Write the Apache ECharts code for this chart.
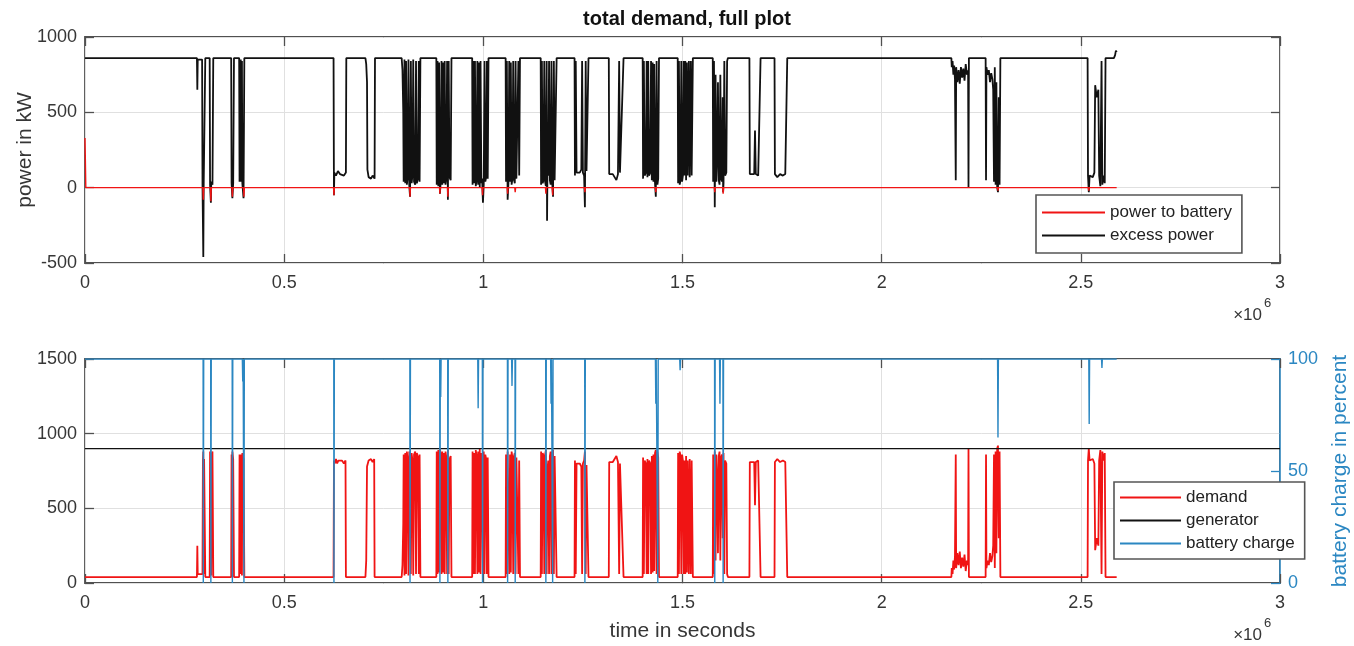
<!DOCTYPE html>
<html><head><meta charset="utf-8">
<script src="https://cdn.jsdelivr.net/npm/echarts@6/dist/echarts.min.js"></script>
<style>html,body{margin:0;padding:0;background:#fff}#c{width:1354px;height:646px}</style>
</head><body><div id="c"></div>
<script>
// All times are in units of 10^6 seconds (axis shows "x10^6")
const excessPower = [
[0,860],[0.281,860],[0.282,650],[0.283,850],[0.294,850],
[0.295,20],[0.297,-460],[0.298,30],[0.299,20],[0.301,40],[0.302,860],
[0.313,860],[0.314,20],[0.316,-100],[0.317,40],[0.318,30],[0.320,20],[0.322,860],
[0.367,860],[0.368,30],[0.370,-70],[0.372,30],[0.374,860],
[0.387,860],[0.388,40],[0.390,30],[0.391,850],[0.392,40],[0.394,840],[0.395,30],[0.398,-70],[0.400,860],
[0.624,860],[0.625,-50],[0.626,100],[0.630,80],[0.635,110],[0.640,90],[0.645,100],[0.650,80],[0.655,100],[0.656,860],
[0.704,860],[0.706,820],[0.708,700],[0.709,120],[0.712,70],[0.718,60],[0.722,80],[0.727,60],[0.728,860],
[0.795,860],[0.797,780],[0.799,500],[0.800,40],[0.802,850],[0.804,30],[0.806,840],[0.808,20],[0.810,70],[0.812,850],[0.814,20],[0.816,-60],[0.818,840],[0.820,30],[0.822,80],[0.824,850],[0.826,40],[0.829,20],[0.831,840],[0.833,30],[0.836,60],[0.838,840],[0.840,40],[0.842,860],
[0.882,860],[0.883,20],[0.885,840],[0.887,10],[0.889,830],[0.891,-40],[0.893,40],[0.895,840],[0.897,20],[0.899,830],[0.901,30],[0.903,840],[0.905,20],[0.907,60],[0.909,840],[0.911,-80],[0.913,840],[0.915,70],[0.918,50],[0.920,860],
[0.972,860],[0.973,20],[0.975,840],[0.977,30],[0.979,840],[0.981,10],[0.983,50],[0.985,840],[0.987,20],[0.989,830],[0.991,0],[0.993,840],[0.995,30],[0.997,60],[0.999,-100],[1.001,20],[1.003,840],[1.005,40],[1.007,70],[1.009,840],[1.011,60],[1.013,860],
[1.056,860],[1.057,40],[1.059,840],[1.061,-80],[1.063,30],[1.065,840],[1.067,40],[1.069,830],[1.071,20],[1.073,60],[1.075,840],[1.077,50],[1.079,30],[1.081,840],[1.083,60],[1.086,70],[1.088,840],[1.090,80],[1.092,860],
[1.144,860],[1.145,20],[1.147,840],[1.149,30],[1.151,50],[1.153,840],[1.155,40],[1.157,10],[1.159,840],[1.160,-220],[1.161,140],[1.163,80],[1.165,840],[1.167,50],[1.169,20],[1.171,840],[1.173,30],[1.175,-60],[1.177,840],[1.179,50],[1.182,60],[1.184,860],
[1.229,860],[1.230,80],[1.232,840],[1.234,100],[1.238,110],[1.242,100],[1.246,120],[1.248,840],[1.250,100],[1.253,80],[1.255,-130],[1.257,840],[1.259,110],[1.262,100],[1.264,860],
[1.315,860],[1.316,90],[1.320,100],[1.325,90],[1.330,80],[1.334,50],[1.338,90],[1.341,840],[1.343,100],[1.348,90],[1.352,860],
[1.400,860],[1.401,60],[1.403,840],[1.405,80],[1.408,100],[1.410,840],[1.412,70],[1.414,840],[1.416,80],[1.419,100],[1.421,840],[1.423,50],[1.425,830],[1.427,40],[1.429,820],[1.431,30],[1.433,-60],[1.435,840],[1.437,20],[1.439,60],[1.441,860],
[1.488,860],[1.489,30],[1.491,840],[1.493,20],[1.495,50],[1.497,840],[1.499,40],[1.501,80],[1.503,840],[1.505,80],[1.507,840],[1.509,50],[1.511,830],[1.513,80],[1.516,840],[1.518,70],[1.521,840],[1.523,80],[1.526,860],
[1.576,860],[1.577,40],[1.579,840],[1.581,-130],[1.583,750],[1.585,40],[1.587,200],[1.589,700],[1.591,50],[1.593,20],[1.595,750],[1.597,60],[1.599,40],[1.601,600],[1.602,-30],[1.603,30],[1.605,840],[1.607,80],[1.610,100],[1.612,840],[1.614,860],
[1.668,860],[1.669,90],[1.674,80],[1.680,90],[1.682,380],[1.684,90],[1.690,80],[1.695,90],[1.696,860],
[1.731,860],[1.732,90],[1.738,70],[1.745,90],[1.752,80],[1.758,90],[1.762,80],[1.763,860],
[2.175,860],[2.176,800],[2.178,840],[2.180,750],[2.182,810],[2.184,720],[2.186,50],[2.187,800],[2.190,700],[2.193,780],[2.196,690],[2.199,800],[2.202,730],[2.205,790],[2.208,710],[2.211,820],[2.214,750],[2.217,780],[2.218,0],[2.219,860],
[2.261,860],[2.262,50],[2.263,800],[2.266,750],[2.269,780],[2.272,700],[2.275,760],[2.278,720],[2.280,650],[2.282,40],[2.284,800],[2.286,20],[2.288,700],[2.290,0],[2.292,-30],[2.294,600],[2.296,20],[2.298,860],
[2.517,860],[2.518,80],[2.520,-30],[2.522,80],[2.526,90],[2.530,70],[2.534,100],[2.536,680],[2.540,600],[2.544,650],[2.546,80],[2.549,10],[2.552,840],[2.554,20],[2.557,80],[2.560,30],[2.562,860],
[2.583,860],[2.586,880],[2.588,910],[2.590,900]
];

const powerToBattery = [
[0,330],[0.002,0],
[0.296,0],[0.297,-80],[0.298,0],
[0.315,0],[0.316,-90],[0.317,0],
[0.369,0],[0.370,-60],[0.371,0],
[0.398,0],[0.399,-60],[0.400,0],
[0.624,0],[0.625,-50],[0.626,0],
[0.815,0],[0.816,-60],[0.817,0],
[0.890,0],[0.891,-40],[0.892,0],
[0.910,0],[0.911,-60],[0.912,0],
[0.997,0],[0.998,-50],[0.999,0],
[1.060,0],[1.061,-40],[1.062,0],
[1.079,0],[1.080,-30],[1.081,0],
[1.156,0],[1.157,-40],[1.158,0],
[1.173,0],[1.174,-50],[1.175,0],
[1.254,0],[1.255,-30],[1.256,0],
[1.432,0],[1.433,-30],[1.434,0],
[1.580,0],[1.581,-30],[1.582,0],
[1.601,0],[1.602,-40],[1.603,0],
[2.291,0],[2.292,-20],[2.293,0],
[2.519,0],[2.520,-20],[2.521,0],
[2.590,0]
];

const demand = [
[0,40],[0.281,40],[0.282,250],[0.283,60],[0.295,60],
[0.296,820],[0.297,880],[0.298,60],[0.299,830],[0.301,820],[0.302,40],
[0.313,40],[0.314,880],[0.316,870],[0.317,50],[0.318,860],[0.320,880],[0.322,40],
[0.367,40],[0.368,860],[0.369,50],[0.370,880],[0.372,830],[0.374,40],
[0.387,40],[0.388,860],[0.390,870],[0.391,60],[0.392,860],[0.394,50],[0.395,870],[0.397,880],[0.398,830],[0.400,40],
[0.624,40],[0.625,820],[0.627,800],[0.630,830],[0.633,800],[0.636,820],[0.640,810],[0.645,820],[0.650,800],[0.654,820],[0.655,40],
[0.704,40],[0.706,150],[0.708,780],[0.712,820],[0.718,830],[0.722,810],[0.726,830],[0.727,40],
[0.795,40],[0.797,120],[0.799,400],[0.800,860],[0.802,50],[0.804,870],[0.806,60],[0.808,880],[0.810,830],[0.812,50],[0.814,880],[0.816,860],[0.818,60],[0.820,870],[0.822,820],[0.824,50],[0.826,860],[0.829,880],[0.831,60],[0.833,870],[0.836,840],[0.838,60],[0.840,860],[0.842,40],
[0.882,40],[0.883,880],[0.885,60],[0.887,890],[0.889,70],[0.891,900],[0.893,860],[0.895,60],[0.897,880],[0.899,70],[0.901,870],[0.903,60],[0.905,880],[0.907,840],[0.909,60],[0.911,890],[0.913,60],[0.915,830],[0.918,850],[0.920,40],
[0.972,40],[0.973,880],[0.975,60],[0.977,870],[0.979,60],[0.981,890],[0.983,850],[0.985,60],[0.987,880],[0.989,70],[0.991,900],[0.993,60],[0.995,870],[0.997,840],[0.999,60],[1.001,880],[1.003,60],[1.005,860],[1.007,830],[1.009,60],[1.011,840],[1.013,40],
[1.056,40],[1.057,860],[1.059,60],[1.061,880],[1.063,870],[1.065,60],[1.067,860],[1.069,70],[1.071,880],[1.073,840],[1.075,60],[1.077,850],[1.079,870],[1.081,60],[1.083,840],[1.086,830],[1.088,60],[1.090,820],[1.092,40],
[1.144,40],[1.145,880],[1.147,60],[1.149,870],[1.151,850],[1.153,60],[1.155,860],[1.157,890],[1.159,60],[1.161,760],[1.163,820],[1.165,60],[1.167,850],[1.169,880],[1.171,60],[1.173,870],[1.175,890],[1.177,60],[1.179,850],[1.182,840],[1.184,40],
[1.229,40],[1.230,820],[1.232,60],[1.234,800],[1.238,790],[1.242,800],[1.246,780],[1.248,60],[1.250,800],[1.253,820],[1.255,880],[1.257,60],[1.259,790],[1.262,800],[1.264,40],
[1.315,40],[1.316,810],[1.320,800],[1.325,810],[1.330,820],[1.334,850],[1.338,810],[1.341,60],[1.343,800],[1.348,810],[1.352,40],
[1.400,40],[1.401,840],[1.403,60],[1.405,820],[1.408,800],[1.410,60],[1.412,830],[1.414,60],[1.416,820],[1.419,800],[1.421,60],[1.423,850],[1.425,70],[1.427,860],[1.429,80],[1.431,870],[1.433,890],[1.435,60],[1.437,880],[1.439,840],[1.441,40],
[1.488,40],[1.489,870],[1.491,60],[1.493,880],[1.495,850],[1.497,60],[1.499,860],[1.501,820],[1.503,60],[1.505,820],[1.507,60],[1.509,850],[1.511,70],[1.513,820],[1.516,60],[1.518,830],[1.521,60],[1.523,820],[1.526,40],
[1.576,40],[1.577,860],[1.579,60],[1.581,880],[1.583,150],[1.585,860],[1.587,700],[1.589,200],[1.591,850],[1.593,880],[1.595,150],[1.597,840],[1.599,860],[1.601,300],[1.603,870],[1.605,60],[1.607,820],[1.610,800],[1.612,60],[1.614,40],
[1.668,40],[1.669,810],[1.674,820],[1.680,810],[1.682,520],[1.684,810],[1.690,820],[1.695,810],[1.696,40],
[1.731,40],[1.732,810],[1.738,830],[1.745,810],[1.752,820],[1.758,810],[1.762,820],[1.763,40],
[2.175,40],[2.176,100],[2.178,60],[2.180,150],[2.182,90],[2.184,180],[2.186,860],[2.187,100],[2.190,200],[2.193,120],[2.196,210],[2.199,100],[2.202,170],[2.205,110],[2.208,190],[2.211,80],[2.214,150],[2.217,120],[2.218,900],[2.219,40],
[2.261,40],[2.262,860],[2.263,100],[2.266,150],[2.269,120],[2.272,200],[2.275,140],[2.278,180],[2.280,250],[2.282,860],[2.284,100],[2.286,880],[2.288,200],[2.290,900],[2.292,920],[2.294,300],[2.296,880],[2.298,40],
[2.517,40],[2.518,820],[2.520,900],[2.522,820],[2.526,810],[2.530,830],[2.534,800],[2.536,220],[2.540,300],[2.544,250],[2.546,820],[2.549,890],[2.552,60],[2.554,880],[2.557,820],[2.560,870],[2.562,40],
[2.590,40]
];

const generator = [[0,900],[2.59,900],[3,900]];

const batteryCharge = [
[0,100],
[0.2965,100],[0.297,0],[0.298,100],
[0.3155,100],[0.316,0],[0.317,100],
[0.3695,100],[0.370,0],[0.371,100],
[0.395,100],[0.396,90],[0.397,100],
[0.3985,100],[0.399,0],[0.400,100],
[0.6245,100],[0.625,0],[0.626,100],
[0.8155,100],[0.816,0],[0.817,100],
[0.8905,100],[0.891,0],[0.892,100],[0.893,83],[0.894,100],
[0.9105,100],[0.911,0],[0.912,100],
[0.986,100],[0.987,78],[0.988,100],
[0.9975,100],[0.998,0],[0.999,100],
[1.0605,100],[1.061,0],[1.062,100],
[1.071,100],[1.072,88],[1.073,100],
[1.0795,100],[1.080,0],[1.081,100],
[1.1565,100],[1.157,0],[1.158,100],
[1.169,100],[1.170,80],[1.171,100],
[1.1735,100],[1.174,0],[1.175,100],
[1.2545,100],[1.255,0],[1.256,100],
[1.432,100],[1.433,80],[1.434,100],
[1.4375,100],[1.438,0],[1.439,100],
[1.493,100],[1.494,95],[1.495,100],
[1.5805,100],[1.581,0],[1.582,100],
[1.593,100],[1.594,80],[1.595,100],
[1.6015,100],[1.602,0],[1.603,100],
[2.291,100],[2.292,65],[2.293,100],
[2.520,100],[2.521,71],[2.522,100],
[2.552,100],[2.553,96],[2.554,100],
[2.590,100]
];

const FONT = '"Liberation Sans", Arial, Helvetica, sans-serif';
const AX = '#505050', LBL = '#363636', GRIDC = '#e0e0e0';
const RED = '#f01414', BLUE = '#2b87c2';
const plainNum = v => String(v);

function xAx(gi, pos, extra) {
  return Object.assign({
    gridIndex: gi, type: 'value', min: 0, max: 3, interval: 0.5, position: pos,
    axisLine: {show: false, onZero: false},
    axisTick: {inside: true, length: 9, lineStyle: {color: AX, width: 1.3}},
    axisLabel: pos === 'bottom' ? {color: LBL, fontSize: 18, fontFamily: FONT, margin: 11, formatter: plainNum} : {show: false},
    splitLine: {show: pos === 'bottom', lineStyle: {color: GRIDC, width: 1}}
  }, extra || {});
}
function yAx(gi, pos, min, max, iv, extra) {
  return Object.assign({
    gridIndex: gi, type: 'value', min: min, max: max, interval: iv, position: pos,
    axisLine: {show: false, onZero: false},
    axisTick: {inside: true, length: 9, lineStyle: {color: AX, width: 1.3}},
    axisLabel: {color: LBL, fontSize: 18, fontFamily: FONT, margin: 8, formatter: plainNum},
    splitLine: {show: true, lineStyle: {color: GRIDC, width: 1}}
  }, extra || {});
}

const chart = echarts.init(document.getElementById('c'), null, {renderer: 'canvas'});
chart.setOption({
  animation: false,
  backgroundColor: '#ffffff',
  textStyle: {fontFamily: FONT},
  grid: [
    {left: 85, top: 37, width: 1195, height: 226, containLabel: false, outerBoundsMode: 'none',
      show: true, borderColor: AX, borderWidth: 1.8, backgroundColor: 'transparent'},
    {left: 85, top: 359, width: 1195, height: 224, containLabel: false, outerBoundsMode: 'none',
      show: true, borderColor: AX, borderWidth: 1.8, backgroundColor: 'transparent'}
  ],
  xAxis: [
    xAx(0, 'bottom'),
    xAx(0, 'top'),
    xAx(1, 'bottom', {name: 'time in seconds', nameLocation: 'middle', nameGap: 38,
      nameTextStyle: {color: LBL, fontSize: 21, fontFamily: FONT}}),
    xAx(1, 'top')
  ],
  yAxis: [
    yAx(0, 'left', -500, 1000, 500, {name: 'power in kW', nameLocation: 'middle', nameGap: 49,
      nameMoveOverlap: false,
      nameTextStyle: {color: LBL, fontSize: 21, fontFamily: FONT}}),
    yAx(0, 'right', -500, 1000, 500, {axisLabel: {show: false}, splitLine: {show: false}}),
    yAx(1, 'left', 0, 1500, 500),
    yAx(1, 'right', 0, 100, 50, {
      axisLine: {show: true, onZero: false, lineStyle: {color: BLUE, width: 1.5}},
      axisTick: {inside: true, length: 9, lineStyle: {color: BLUE, width: 1.3}},
      axisLabel: {color: BLUE, fontSize: 18, fontFamily: FONT, margin: 8, formatter: plainNum},
      splitLine: {show: false},
      name: 'battery charge in percent', nameLocation: 'middle', nameGap: 50, nameRotate: 90,
      nameTextStyle: {color: BLUE, fontSize: 21, fontFamily: FONT}
    })
  ],
  legend: [
    {left: 1036, top: 195, orient: 'vertical', data: ['power to battery', 'excess power'],
      icon: 'rect', itemWidth: 63, itemHeight: 2, itemGap: 6, padding: [9, 10, 9, 6],
      borderColor: '#555', borderWidth: 1.6, backgroundColor: '#fff',
      textStyle: {color: '#222', fontSize: 17, lineHeight: 16, fontFamily: FONT}},
    {left: 1114, top: 482, orient: 'vertical', data: ['demand', 'generator', 'battery charge'],
      icon: 'rect', itemWidth: 61, itemHeight: 2, itemGap: 6, padding: [7, 10, 7, 6],
      borderColor: '#555', borderWidth: 1.6, backgroundColor: '#fff',
      textStyle: {color: '#222', fontSize: 17, lineHeight: 17, fontFamily: FONT}}
  ],
  series: [
    {name: 'excess power', type: 'line', xAxisIndex: 0, yAxisIndex: 0, data: excessPower,
      symbol: 'none', lineStyle: {color: '#111', width: 1.8}, itemStyle: {color: '#111'}, z: 2},
    {name: 'power to battery', type: 'line', xAxisIndex: 0, yAxisIndex: 0, data: powerToBattery,
      symbol: 'none', lineStyle: {color: RED, width: 1.4}, itemStyle: {color: RED}, z: 3},
    {name: 'demand', type: 'line', xAxisIndex: 2, yAxisIndex: 2, data: demand,
      symbol: 'none', lineStyle: {color: RED, width: 1.8}, itemStyle: {color: RED}, z: 2},
    {name: 'generator', type: 'line', xAxisIndex: 2, yAxisIndex: 2, data: generator,
      symbol: 'none', lineStyle: {color: '#111', width: 1.1}, itemStyle: {color: '#111'}, z: 3},
    {name: 'battery charge', type: 'line', xAxisIndex: 2, yAxisIndex: 3, data: batteryCharge,
      symbol: 'none', lineStyle: {color: BLUE, width: 1.4}, itemStyle: {color: BLUE}, z: 4}
  ],
  graphic: [
    {type: 'text', x: 687, y: 19, style: {text: 'total demand, full plot', fontSize: 20, fontWeight: 'bold',
      fontFamily: FONT, fill: '#111', align: 'center', verticalAlign: 'middle'}},
    {type: 'text', x: 1262, y: 315, style: {text: '×10', fontSize: 17, fontFamily: FONT, fill: LBL, align: 'right', verticalAlign: 'middle'}},
    {type: 'text', x: 1264, y: 303, style: {text: '6', fontSize: 13, fontFamily: FONT, fill: LBL, align: 'left', verticalAlign: 'middle'}},
    {type: 'text', x: 1262, y: 635, style: {text: '×10', fontSize: 17, fontFamily: FONT, fill: LBL, align: 'right', verticalAlign: 'middle'}},
    {type: 'text', x: 1264, y: 623, style: {text: '6', fontSize: 13, fontFamily: FONT, fill: LBL, align: 'left', verticalAlign: 'middle'}}
  ]
});
</script>
</body></html>
